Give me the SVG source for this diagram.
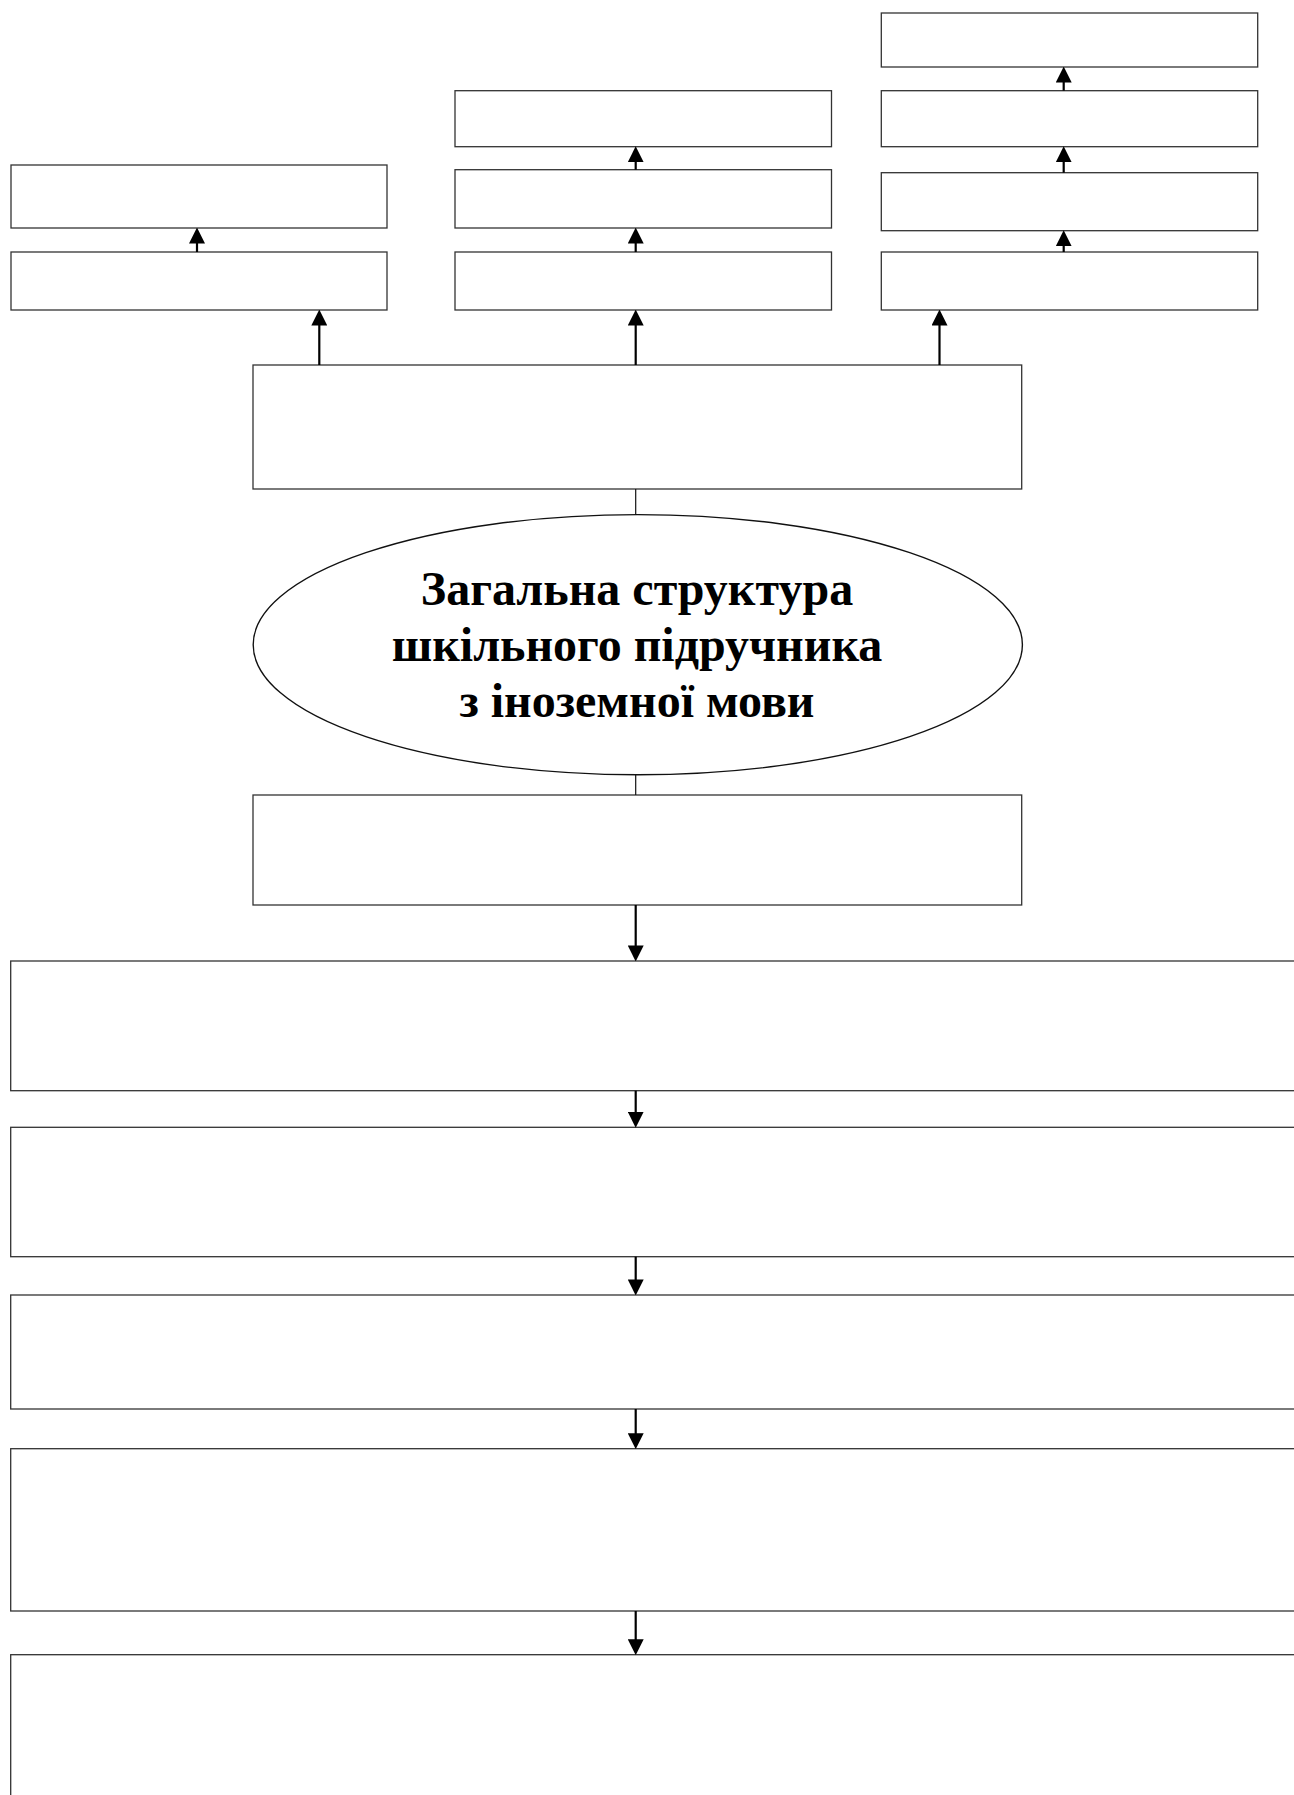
<svg xmlns="http://www.w3.org/2000/svg" width="1294" height="1795" viewBox="0 0 1294 1795">
  <style>
    .box { fill: #ffffff; stroke: #333333; stroke-width: 1.3; }
    .ell { fill: #ffffff; stroke: #111111; stroke-width: 1.4; }
    .arr { fill: none; stroke: #000000; stroke-width: 2.2; marker-end: url(#ah); }
    .plain { fill: none; stroke: #111111; stroke-width: 1.2; }
    .title { font-family: "Liberation Serif", "Times New Roman", serif; font-weight: bold; font-size: 48px; fill: #000000; text-anchor: middle; }
  </style>
  <defs>
    <marker id="ah" markerUnits="userSpaceOnUse" markerWidth="16" markerHeight="16" viewBox="0 0 15 15" refX="8" refY="7.5" orient="auto">
      <path d="M0,0 L15,7.5 L0,15 z" fill="#000000"/>
    </marker>
  </defs>

  <rect width="1294" height="1795" fill="#ffffff"/>

  <!-- Left column -->
  <g id="left-top"><rect class="box" x="11" y="165" width="376" height="63"/></g>
  <g id="left-bottom"><rect class="box" x="11" y="252" width="376" height="58"/></g>

  <!-- Middle column -->
  <g id="mid-top"><rect class="box" x="455" y="90.7" width="376.5" height="56"/></g>
  <g id="mid-middle"><rect class="box" x="455" y="169.7" width="376.5" height="58.3"/></g>
  <g id="mid-bottom"><rect class="box" x="455" y="252" width="376.5" height="58"/></g>

  <!-- Right column -->
  <g id="right-1"><rect class="box" x="881.3" y="13" width="376.4" height="54"/></g>
  <g id="right-2"><rect class="box" x="881.3" y="90.7" width="376.4" height="56"/></g>
  <g id="right-3"><rect class="box" x="881.3" y="172.7" width="376.4" height="58"/></g>
  <g id="right-4"><rect class="box" x="881.3" y="252" width="376.4" height="58"/></g>

  <!-- Main upper box -->
  <g id="upper-main"><rect class="box" x="253" y="365" width="768.7" height="124"/></g>

  <!-- Central ellipse -->
  <g id="center">
    <ellipse class="ell" cx="637.8" cy="644.7" rx="384.6" ry="130.1"/>
    <text class="title" x="637" y="605">Загальна структура</text>
    <text class="title" x="637" y="661">шкільного підручника</text>
    <text class="title" x="637" y="716.5">з іноземної мови</text>
  </g>

  <!-- Main lower box -->
  <g id="lower-main"><rect class="box" x="253" y="795" width="768.7" height="110"/></g>

  <!-- Lower wide boxes -->
  <g id="level-1"><rect class="box" x="10.7" y="961" width="1300" height="129.7"/></g>
  <g id="level-2"><rect class="box" x="10.7" y="1127.3" width="1300" height="129.4"/></g>
  <g id="level-3"><rect class="box" x="10.7" y="1295" width="1300" height="114"/></g>
  <g id="level-4"><rect class="box" x="10.7" y="1448.7" width="1300" height="162.3"/></g>
  <g id="level-5"><rect class="box" x="10.7" y="1654.7" width="1300" height="160"/></g>

  <!-- Connectors -->
  <g id="connectors">
    <line class="arr" x1="319.3" y1="365" x2="319.3" y2="317"/>
    <line class="arr" x1="635.7" y1="365" x2="635.7" y2="317"/>
    <line class="arr" x1="939.5" y1="365" x2="939.5" y2="317"/>
    <line class="arr" x1="197" y1="252" x2="197" y2="235"/>
    <line class="arr" x1="635.7" y1="252" x2="635.7" y2="235"/>
    <line class="arr" x1="635.7" y1="169.7" x2="635.7" y2="153.7"/>
    <line class="arr" x1="1063.7" y1="252" x2="1063.7" y2="237.7"/>
    <line class="arr" x1="1063.7" y1="172.7" x2="1063.7" y2="153.7"/>
    <line class="arr" x1="1063.7" y1="90.7" x2="1063.7" y2="74"/>
    <line class="plain" x1="635.7" y1="489" x2="635.7" y2="514.6"/>
    <line class="plain" x1="635.7" y1="774.8" x2="635.7" y2="795"/>
    <line class="arr" x1="635.7" y1="905" x2="635.7" y2="954"/>
    <line class="arr" x1="635.7" y1="1090.7" x2="635.7" y2="1120.3"/>
    <line class="arr" x1="635.7" y1="1256.7" x2="635.7" y2="1288"/>
    <line class="arr" x1="635.7" y1="1409" x2="635.7" y2="1441.7"/>
    <line class="arr" x1="635.7" y1="1611" x2="635.7" y2="1647.7"/>
  </g>
</svg>
